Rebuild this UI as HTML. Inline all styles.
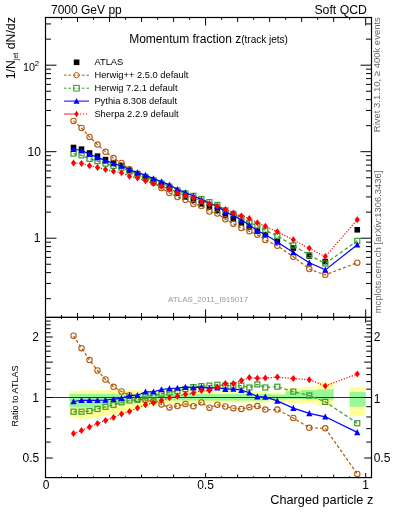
<!DOCTYPE html><html><head><meta charset="utf-8"><style>html,body{margin:0;padding:0;background:#fff;width:393px;height:512px;overflow:hidden;}svg{display:block;will-change:transform;}text{font-family:"Liberation Sans",sans-serif;}</style></head><body>
<svg width="393" height="512" viewBox="0 0 393 512">
<path d="M69.52,391.10 L77.52,391.10 L77.52,390.60 L85.53,390.60 L85.53,390.30 L93.53,390.30 L93.53,390.30 L101.53,390.30 L101.53,390.30 L109.54,390.30 L109.54,390.30 L117.55,390.30 L117.55,390.30 L125.55,390.30 L125.55,390.30 L133.56,390.30 L133.56,390.30 L141.56,390.30 L141.56,391.00 L149.56,391.00 L149.56,391.00 L157.57,391.00 L157.57,391.00 L165.57,391.00 L165.58,391.00 L173.58,391.00 L173.58,391.00 L181.59,391.00 L181.59,391.00 L189.59,391.00 L189.59,391.00 L197.59,391.00 L197.59,391.00 L205.60,391.00 L205.60,391.00 L213.60,391.00 L213.60,391.00 L221.61,391.00 L221.61,391.00 L229.62,391.00 L229.61,391.00 L237.62,391.00 L237.62,391.00 L245.62,391.00 L245.62,391.00 L253.63,391.00 L253.63,391.00 L261.63,391.00 L261.63,391.00 L269.64,391.00 L269.64,392.40 L285.65,392.40 L285.65,388.40 L301.66,388.40 L301.66,386.80 L317.67,386.80 L317.67,382.60 L333.68,382.60 L333.68,405.50 L317.67,405.50 L317.67,403.60 L301.66,403.60 L301.66,402.70 L285.65,402.70 L285.65,402.00 L269.64,402.00 L269.64,402.50 L261.63,402.50 L261.63,402.50 L253.63,402.50 L253.63,402.50 L245.62,402.50 L245.62,402.50 L237.62,402.50 L237.62,402.50 L229.61,402.50 L229.62,402.60 L221.61,402.60 L221.61,402.70 L213.60,402.70 L213.60,402.80 L205.60,402.80 L205.60,403.00 L197.59,403.00 L197.59,403.20 L189.59,403.20 L189.59,403.40 L181.59,403.40 L181.59,403.60 L173.58,403.60 L173.58,403.80 L165.58,403.80 L165.57,404.00 L157.57,404.00 L157.57,405.50 L149.56,405.50 L149.56,407.00 L141.56,407.00 L141.56,409.00 L133.56,409.00 L133.56,410.50 L125.55,410.50 L125.55,413.60 L117.55,413.60 L117.55,414.50 L109.54,414.50 L109.54,416.00 L101.53,416.00 L101.53,417.50 L93.53,417.50 L93.53,418.50 L85.53,418.50 L85.53,418.70 L77.52,418.70 L77.52,417.00 L69.52,417.00 Z M349.69,387.20 L365.70,387.20 L365.70,415.80 L349.69,415.80 Z " fill="#ffff99"/>
<path d="M69.52,394.00 L77.52,394.00 L77.52,394.00 L85.53,394.00 L85.53,394.00 L93.53,394.00 L93.53,394.00 L101.53,394.00 L101.53,394.00 L109.54,394.00 L109.54,394.00 L117.55,394.00 L117.55,394.00 L125.55,394.00 L125.55,394.00 L133.56,394.00 L133.56,394.00 L141.56,394.00 L141.56,394.00 L149.56,394.00 L149.56,394.00 L157.57,394.00 L157.57,394.00 L165.57,394.00 L165.58,394.00 L173.58,394.00 L173.58,394.00 L181.59,394.00 L181.59,394.00 L189.59,394.00 L189.59,394.00 L197.59,394.00 L197.59,394.00 L205.60,394.00 L205.60,394.00 L213.60,394.00 L213.60,394.00 L221.61,394.00 L221.61,394.00 L229.62,394.00 L229.61,394.00 L237.62,394.00 L237.62,394.00 L245.62,394.00 L245.62,394.00 L253.63,394.00 L253.63,394.00 L261.63,394.00 L261.63,394.00 L269.64,394.00 L269.64,394.50 L285.65,394.50 L285.65,391.20 L301.66,391.20 L301.66,389.90 L317.67,389.90 L317.67,389.30 L333.68,389.30 L333.68,399.80 L317.67,399.80 L317.67,399.40 L301.66,399.40 L301.66,398.90 L285.65,398.90 L285.65,399.50 L269.64,399.50 L269.64,400.50 L261.63,400.50 L261.63,400.50 L253.63,400.50 L253.63,400.50 L245.62,400.50 L245.62,400.50 L237.62,400.50 L237.62,400.50 L229.61,400.50 L229.62,400.50 L221.61,400.50 L221.61,400.50 L213.60,400.50 L213.60,400.50 L205.60,400.50 L205.60,400.50 L197.59,400.50 L197.59,400.50 L189.59,400.50 L189.59,400.50 L181.59,400.50 L181.59,400.50 L173.58,400.50 L173.58,400.50 L165.58,400.50 L165.57,400.50 L157.57,400.50 L157.57,402.00 L149.56,402.00 L149.56,402.00 L141.56,402.00 L141.56,402.00 L133.56,402.00 L133.56,402.00 L125.55,402.00 L125.55,404.40 L117.55,404.40 L117.55,404.40 L109.54,404.40 L109.54,404.40 L101.53,404.40 L101.53,407.50 L93.53,407.50 L93.53,407.50 L85.53,407.50 L85.53,407.50 L77.52,407.50 L77.52,407.50 L69.52,407.50 Z M349.69,392.10 L365.70,392.10 L365.70,406.70 L349.69,406.70 Z " fill="#99f799"/>
<line x1="45.5" y1="397.5" x2="371.5" y2="397.5" stroke="#333" stroke-width="1.2"/>
<defs><clipPath id="cm"><rect x="45.5" y="17.5" width="326.0" height="299.9"/></clipPath><clipPath id="cr"><rect x="45.5" y="317.4" width="326.0" height="160.20000000000005"/></clipPath></defs>
<g clip-path="url(#cm)">
<rect x="70.72" y="144.70" width="5.6" height="5.6" fill="#000"/>
<rect x="78.72" y="146.40" width="5.6" height="5.6" fill="#000"/>
<rect x="86.71" y="150.20" width="5.6" height="5.6" fill="#000"/>
<rect x="94.70" y="153.40" width="5.6" height="5.6" fill="#000"/>
<rect x="102.69" y="156.80" width="5.6" height="5.6" fill="#000"/>
<rect x="110.69" y="159.90" width="5.6" height="5.6" fill="#000"/>
<rect x="118.68" y="162.80" width="5.6" height="5.6" fill="#000"/>
<rect x="126.67" y="167.50" width="5.6" height="5.6" fill="#000"/>
<rect x="134.66" y="170.80" width="5.6" height="5.6" fill="#000"/>
<rect x="142.66" y="174.80" width="5.6" height="5.6" fill="#000"/>
<rect x="150.65" y="178.30" width="5.6" height="5.6" fill="#000"/>
<rect x="158.64" y="182.30" width="5.6" height="5.6" fill="#000"/>
<rect x="166.63" y="185.90" width="5.6" height="5.6" fill="#000"/>
<rect x="174.63" y="190.50" width="5.6" height="5.6" fill="#000"/>
<rect x="182.62" y="194.20" width="5.6" height="5.6" fill="#000"/>
<rect x="190.61" y="197.50" width="5.6" height="5.6" fill="#000"/>
<rect x="198.60" y="201.10" width="5.6" height="5.6" fill="#000"/>
<rect x="206.60" y="204.40" width="5.6" height="5.6" fill="#000"/>
<rect x="214.59" y="207.60" width="5.6" height="5.6" fill="#000"/>
<rect x="222.58" y="212.70" width="5.6" height="5.6" fill="#000"/>
<rect x="230.57" y="216.30" width="5.6" height="5.6" fill="#000"/>
<rect x="238.57" y="220.40" width="5.6" height="5.6" fill="#000"/>
<rect x="246.56" y="224.30" width="5.6" height="5.6" fill="#000"/>
<rect x="254.55" y="228.30" width="5.6" height="5.6" fill="#000"/>
<rect x="262.54" y="231.90" width="5.6" height="5.6" fill="#000"/>
<rect x="274.53" y="237.80" width="5.6" height="5.6" fill="#000"/>
<rect x="290.52" y="245.20" width="5.6" height="5.6" fill="#000"/>
<rect x="306.50" y="253.20" width="5.6" height="5.6" fill="#000"/>
<rect x="322.49" y="258.80" width="5.6" height="5.6" fill="#000"/>
<rect x="354.46" y="227.00" width="5.6" height="5.6" fill="#000"/>
<polyline points="73.52,120.90 81.52,127.98 89.51,136.90 97.50,144.58 105.49,151.85 113.49,158.10 121.48,163.02 129.47,169.31 137.46,174.25 145.46,178.68 153.45,182.74 161.44,188.07 169.43,192.96 177.43,197.00 185.42,199.75 193.41,204.04 201.40,206.01 209.40,211.59 217.39,213.50 225.38,219.37 233.37,223.70 241.37,228.11 249.36,231.32 257.35,234.80 265.34,239.91 277.33,245.81 293.32,256.82 309.30,269.04 325.29,274.85 357.26,262.68" fill="none" stroke="#b35a0c" stroke-width="1.2" stroke-dasharray="3,2.2"/>
<circle cx="73.52" cy="120.90" r="2.7" fill="none" stroke="#b35a0c" stroke-width="1.1"/>
<circle cx="81.52" cy="127.98" r="2.7" fill="none" stroke="#b35a0c" stroke-width="1.1"/>
<circle cx="89.51" cy="136.90" r="2.7" fill="none" stroke="#b35a0c" stroke-width="1.1"/>
<circle cx="97.50" cy="144.58" r="2.7" fill="none" stroke="#b35a0c" stroke-width="1.1"/>
<circle cx="105.49" cy="151.85" r="2.7" fill="none" stroke="#b35a0c" stroke-width="1.1"/>
<circle cx="113.49" cy="158.10" r="2.7" fill="none" stroke="#b35a0c" stroke-width="1.1"/>
<circle cx="121.48" cy="163.02" r="2.7" fill="none" stroke="#b35a0c" stroke-width="1.1"/>
<circle cx="129.47" cy="169.31" r="2.7" fill="none" stroke="#b35a0c" stroke-width="1.1"/>
<circle cx="137.46" cy="174.25" r="2.7" fill="none" stroke="#b35a0c" stroke-width="1.1"/>
<circle cx="145.46" cy="178.68" r="2.7" fill="none" stroke="#b35a0c" stroke-width="1.1"/>
<circle cx="153.45" cy="182.74" r="2.7" fill="none" stroke="#b35a0c" stroke-width="1.1"/>
<circle cx="161.44" cy="188.07" r="2.7" fill="none" stroke="#b35a0c" stroke-width="1.1"/>
<circle cx="169.43" cy="192.96" r="2.7" fill="none" stroke="#b35a0c" stroke-width="1.1"/>
<circle cx="177.43" cy="197.00" r="2.7" fill="none" stroke="#b35a0c" stroke-width="1.1"/>
<circle cx="185.42" cy="199.75" r="2.7" fill="none" stroke="#b35a0c" stroke-width="1.1"/>
<circle cx="193.41" cy="204.04" r="2.7" fill="none" stroke="#b35a0c" stroke-width="1.1"/>
<circle cx="201.40" cy="206.01" r="2.7" fill="none" stroke="#b35a0c" stroke-width="1.1"/>
<circle cx="209.40" cy="211.59" r="2.7" fill="none" stroke="#b35a0c" stroke-width="1.1"/>
<circle cx="217.39" cy="213.50" r="2.7" fill="none" stroke="#b35a0c" stroke-width="1.1"/>
<circle cx="225.38" cy="219.37" r="2.7" fill="none" stroke="#b35a0c" stroke-width="1.1"/>
<circle cx="233.37" cy="223.70" r="2.7" fill="none" stroke="#b35a0c" stroke-width="1.1"/>
<circle cx="241.37" cy="228.11" r="2.7" fill="none" stroke="#b35a0c" stroke-width="1.1"/>
<circle cx="249.36" cy="231.32" r="2.7" fill="none" stroke="#b35a0c" stroke-width="1.1"/>
<circle cx="257.35" cy="234.80" r="2.7" fill="none" stroke="#b35a0c" stroke-width="1.1"/>
<circle cx="265.34" cy="239.91" r="2.7" fill="none" stroke="#b35a0c" stroke-width="1.1"/>
<circle cx="277.33" cy="245.81" r="2.7" fill="none" stroke="#b35a0c" stroke-width="1.1"/>
<circle cx="293.32" cy="256.82" r="2.7" fill="none" stroke="#b35a0c" stroke-width="1.1"/>
<circle cx="309.30" cy="269.04" r="2.7" fill="none" stroke="#b35a0c" stroke-width="1.1"/>
<circle cx="325.29" cy="274.85" r="2.7" fill="none" stroke="#b35a0c" stroke-width="1.1"/>
<circle cx="357.26" cy="262.68" r="2.7" fill="none" stroke="#b35a0c" stroke-width="1.1"/>
<polyline points="73.52,153.61 81.52,155.31 89.51,158.81 97.50,161.15 105.49,163.60 113.49,165.84 121.48,167.67 129.47,171.59 137.46,174.59 145.46,176.95 153.45,180.28 161.44,183.46 169.43,186.59 177.43,190.50 185.42,193.39 193.41,195.82 201.40,198.99 209.40,202.08 217.39,204.93 225.38,210.38 233.37,213.98 241.37,218.08 249.36,222.80 257.35,225.46 265.34,230.40 277.33,235.95 293.32,245.46 309.30,255.14 325.29,263.49 357.26,240.86" fill="none" stroke="#3c9c2c" stroke-width="1.2" stroke-dasharray="3.5,2.5"/>
<rect x="71.02" y="151.11" width="5.0" height="5.0" fill="none" stroke="#3c9c2c" stroke-width="1.2"/>
<rect x="79.02" y="152.81" width="5.0" height="5.0" fill="none" stroke="#3c9c2c" stroke-width="1.2"/>
<rect x="87.01" y="156.31" width="5.0" height="5.0" fill="none" stroke="#3c9c2c" stroke-width="1.2"/>
<rect x="95.00" y="158.65" width="5.0" height="5.0" fill="none" stroke="#3c9c2c" stroke-width="1.2"/>
<rect x="102.99" y="161.10" width="5.0" height="5.0" fill="none" stroke="#3c9c2c" stroke-width="1.2"/>
<rect x="110.99" y="163.34" width="5.0" height="5.0" fill="none" stroke="#3c9c2c" stroke-width="1.2"/>
<rect x="118.98" y="165.17" width="5.0" height="5.0" fill="none" stroke="#3c9c2c" stroke-width="1.2"/>
<rect x="126.97" y="169.09" width="5.0" height="5.0" fill="none" stroke="#3c9c2c" stroke-width="1.2"/>
<rect x="134.96" y="172.09" width="5.0" height="5.0" fill="none" stroke="#3c9c2c" stroke-width="1.2"/>
<rect x="142.96" y="174.45" width="5.0" height="5.0" fill="none" stroke="#3c9c2c" stroke-width="1.2"/>
<rect x="150.95" y="177.78" width="5.0" height="5.0" fill="none" stroke="#3c9c2c" stroke-width="1.2"/>
<rect x="158.94" y="180.96" width="5.0" height="5.0" fill="none" stroke="#3c9c2c" stroke-width="1.2"/>
<rect x="166.93" y="184.09" width="5.0" height="5.0" fill="none" stroke="#3c9c2c" stroke-width="1.2"/>
<rect x="174.93" y="188.00" width="5.0" height="5.0" fill="none" stroke="#3c9c2c" stroke-width="1.2"/>
<rect x="182.92" y="190.89" width="5.0" height="5.0" fill="none" stroke="#3c9c2c" stroke-width="1.2"/>
<rect x="190.91" y="193.32" width="5.0" height="5.0" fill="none" stroke="#3c9c2c" stroke-width="1.2"/>
<rect x="198.90" y="196.49" width="5.0" height="5.0" fill="none" stroke="#3c9c2c" stroke-width="1.2"/>
<rect x="206.90" y="199.58" width="5.0" height="5.0" fill="none" stroke="#3c9c2c" stroke-width="1.2"/>
<rect x="214.89" y="202.43" width="5.0" height="5.0" fill="none" stroke="#3c9c2c" stroke-width="1.2"/>
<rect x="222.88" y="207.88" width="5.0" height="5.0" fill="none" stroke="#3c9c2c" stroke-width="1.2"/>
<rect x="230.87" y="211.48" width="5.0" height="5.0" fill="none" stroke="#3c9c2c" stroke-width="1.2"/>
<rect x="238.87" y="215.58" width="5.0" height="5.0" fill="none" stroke="#3c9c2c" stroke-width="1.2"/>
<rect x="246.86" y="220.30" width="5.0" height="5.0" fill="none" stroke="#3c9c2c" stroke-width="1.2"/>
<rect x="254.85" y="222.96" width="5.0" height="5.0" fill="none" stroke="#3c9c2c" stroke-width="1.2"/>
<rect x="262.84" y="227.90" width="5.0" height="5.0" fill="none" stroke="#3c9c2c" stroke-width="1.2"/>
<rect x="274.83" y="233.45" width="5.0" height="5.0" fill="none" stroke="#3c9c2c" stroke-width="1.2"/>
<rect x="290.82" y="242.96" width="5.0" height="5.0" fill="none" stroke="#3c9c2c" stroke-width="1.2"/>
<rect x="306.80" y="252.64" width="5.0" height="5.0" fill="none" stroke="#3c9c2c" stroke-width="1.2"/>
<rect x="322.79" y="260.99" width="5.0" height="5.0" fill="none" stroke="#3c9c2c" stroke-width="1.2"/>
<rect x="354.76" y="238.36" width="5.0" height="5.0" fill="none" stroke="#3c9c2c" stroke-width="1.2"/>
<polyline points="73.52,149.22 81.52,150.40 89.51,154.20 97.50,157.40 105.49,160.68 113.49,163.43 121.48,165.94 129.47,169.48 137.46,172.61 145.46,175.15 153.45,178.65 161.44,181.66 169.43,184.87 177.43,189.21 185.42,192.52 193.41,196.04 201.40,199.42 209.40,203.20 217.39,206.14 225.38,211.89 233.37,215.44 241.37,220.06 249.36,225.08 257.35,230.71 265.34,234.44 277.33,242.06 293.32,252.56 309.30,262.84 325.29,269.91 357.26,244.82" fill="none" stroke="#0000ff" stroke-width="1.2"/>
<path d="M73.52,145.93 L76.62,152.01 L70.42,152.01 Z" fill="#0000ff"/>
<path d="M81.52,147.11 L84.62,153.19 L78.42,153.19 Z" fill="#0000ff"/>
<path d="M89.51,150.91 L92.61,156.99 L86.41,156.99 Z" fill="#0000ff"/>
<path d="M97.50,154.11 L100.60,160.19 L94.40,160.19 Z" fill="#0000ff"/>
<path d="M105.49,157.39 L108.59,163.47 L102.39,163.47 Z" fill="#0000ff"/>
<path d="M113.49,160.14 L116.59,166.22 L110.39,166.22 Z" fill="#0000ff"/>
<path d="M121.48,162.65 L124.58,168.73 L118.38,168.73 Z" fill="#0000ff"/>
<path d="M129.47,166.19 L132.57,172.27 L126.37,172.27 Z" fill="#0000ff"/>
<path d="M137.46,169.32 L140.56,175.40 L134.36,175.40 Z" fill="#0000ff"/>
<path d="M145.46,171.86 L148.56,177.94 L142.36,177.94 Z" fill="#0000ff"/>
<path d="M153.45,175.36 L156.55,181.44 L150.35,181.44 Z" fill="#0000ff"/>
<path d="M161.44,178.37 L164.54,184.45 L158.34,184.45 Z" fill="#0000ff"/>
<path d="M169.43,181.58 L172.53,187.66 L166.33,187.66 Z" fill="#0000ff"/>
<path d="M177.43,185.92 L180.53,192.00 L174.33,192.00 Z" fill="#0000ff"/>
<path d="M185.42,189.23 L188.52,195.31 L182.32,195.31 Z" fill="#0000ff"/>
<path d="M193.41,192.75 L196.51,198.83 L190.31,198.83 Z" fill="#0000ff"/>
<path d="M201.40,196.13 L204.50,202.21 L198.30,202.21 Z" fill="#0000ff"/>
<path d="M209.40,199.91 L212.50,205.99 L206.30,205.99 Z" fill="#0000ff"/>
<path d="M217.39,202.85 L220.49,208.93 L214.29,208.93 Z" fill="#0000ff"/>
<path d="M225.38,208.60 L228.48,214.68 L222.28,214.68 Z" fill="#0000ff"/>
<path d="M233.37,212.15 L236.47,218.23 L230.27,218.23 Z" fill="#0000ff"/>
<path d="M241.37,216.77 L244.47,222.85 L238.27,222.85 Z" fill="#0000ff"/>
<path d="M249.36,221.79 L252.46,227.87 L246.26,227.87 Z" fill="#0000ff"/>
<path d="M257.35,227.42 L260.45,233.50 L254.25,233.50 Z" fill="#0000ff"/>
<path d="M265.34,231.15 L268.44,237.23 L262.24,237.23 Z" fill="#0000ff"/>
<path d="M277.33,238.77 L280.43,244.85 L274.23,244.85 Z" fill="#0000ff"/>
<path d="M293.32,249.27 L296.42,255.35 L290.22,255.35 Z" fill="#0000ff"/>
<path d="M309.30,259.55 L312.40,265.63 L306.20,265.63 Z" fill="#0000ff"/>
<path d="M325.29,266.62 L328.39,272.70 L322.19,272.70 Z" fill="#0000ff"/>
<path d="M357.26,241.53 L360.36,247.61 L354.16,247.61 Z" fill="#0000ff"/>
<polyline points="73.52,162.99 81.52,163.40 89.51,165.70 97.50,167.39 105.49,169.45 113.49,171.31 121.48,172.70 129.47,176.32 137.46,178.08 145.46,180.74 153.45,183.38 161.44,186.39 169.43,188.83 177.43,192.78 185.42,195.62 193.41,198.32 201.40,200.93 209.40,204.23 217.39,205.92 225.38,209.52 233.37,213.08 241.37,215.93 249.36,218.54 257.35,222.84 265.34,226.31 277.33,231.82 293.32,239.87 309.30,248.34 325.29,256.61 357.26,219.69" fill="none" stroke="#ff0000" stroke-width="1.2" stroke-dasharray="1.2,1.6"/>
<path d="M73.52,159.49 L76.12,162.99 L73.52,166.49 L70.92,162.99 Z" fill="#ff0000"/>
<path d="M81.52,159.90 L84.12,163.40 L81.52,166.90 L78.92,163.40 Z" fill="#ff0000"/>
<path d="M89.51,162.20 L92.11,165.70 L89.51,169.20 L86.91,165.70 Z" fill="#ff0000"/>
<path d="M97.50,163.89 L100.10,167.39 L97.50,170.89 L94.90,167.39 Z" fill="#ff0000"/>
<path d="M105.49,165.95 L108.09,169.45 L105.49,172.95 L102.89,169.45 Z" fill="#ff0000"/>
<path d="M113.49,167.81 L116.09,171.31 L113.49,174.81 L110.89,171.31 Z" fill="#ff0000"/>
<path d="M121.48,169.20 L124.08,172.70 L121.48,176.20 L118.88,172.70 Z" fill="#ff0000"/>
<path d="M129.47,172.82 L132.07,176.32 L129.47,179.82 L126.87,176.32 Z" fill="#ff0000"/>
<path d="M137.46,174.58 L140.06,178.08 L137.46,181.58 L134.86,178.08 Z" fill="#ff0000"/>
<path d="M145.46,177.24 L148.06,180.74 L145.46,184.24 L142.86,180.74 Z" fill="#ff0000"/>
<path d="M153.45,179.88 L156.05,183.38 L153.45,186.88 L150.85,183.38 Z" fill="#ff0000"/>
<path d="M161.44,182.89 L164.04,186.39 L161.44,189.89 L158.84,186.39 Z" fill="#ff0000"/>
<path d="M169.43,185.33 L172.03,188.83 L169.43,192.33 L166.83,188.83 Z" fill="#ff0000"/>
<path d="M177.43,189.28 L180.03,192.78 L177.43,196.28 L174.83,192.78 Z" fill="#ff0000"/>
<path d="M185.42,192.12 L188.02,195.62 L185.42,199.12 L182.82,195.62 Z" fill="#ff0000"/>
<path d="M193.41,194.82 L196.01,198.32 L193.41,201.82 L190.81,198.32 Z" fill="#ff0000"/>
<path d="M201.40,197.43 L204.00,200.93 L201.40,204.43 L198.80,200.93 Z" fill="#ff0000"/>
<path d="M209.40,200.73 L212.00,204.23 L209.40,207.73 L206.80,204.23 Z" fill="#ff0000"/>
<path d="M217.39,202.42 L219.99,205.92 L217.39,209.42 L214.79,205.92 Z" fill="#ff0000"/>
<path d="M225.38,206.02 L227.98,209.52 L225.38,213.02 L222.78,209.52 Z" fill="#ff0000"/>
<path d="M233.37,209.58 L235.97,213.08 L233.37,216.58 L230.77,213.08 Z" fill="#ff0000"/>
<path d="M241.37,212.43 L243.97,215.93 L241.37,219.43 L238.77,215.93 Z" fill="#ff0000"/>
<path d="M249.36,215.04 L251.96,218.54 L249.36,222.04 L246.76,218.54 Z" fill="#ff0000"/>
<path d="M257.35,219.34 L259.95,222.84 L257.35,226.34 L254.75,222.84 Z" fill="#ff0000"/>
<path d="M265.34,222.81 L267.94,226.31 L265.34,229.81 L262.74,226.31 Z" fill="#ff0000"/>
<path d="M277.33,228.32 L279.93,231.82 L277.33,235.32 L274.73,231.82 Z" fill="#ff0000"/>
<path d="M293.32,236.37 L295.92,239.87 L293.32,243.37 L290.72,239.87 Z" fill="#ff0000"/>
<path d="M309.30,244.84 L311.90,248.34 L309.30,251.84 L306.70,248.34 Z" fill="#ff0000"/>
<path d="M325.29,253.11 L327.89,256.61 L325.29,260.11 L322.69,256.61 Z" fill="#ff0000"/>
<path d="M357.26,216.19 L359.86,219.69 L357.26,223.19 L354.66,219.69 Z" fill="#ff0000"/>
</g>
<g clip-path="url(#cr)">
<polyline points="73.52,335.70 81.52,348.20 89.51,360.10 97.50,370.50 105.49,379.50 113.49,386.80 121.48,391.50 129.47,395.20 137.46,399.00 145.46,400.00 153.45,401.30 161.44,404.40 169.43,407.40 177.43,406.10 185.42,403.90 193.41,406.20 201.40,402.40 209.40,407.70 217.39,404.70 225.38,406.50 233.37,408.20 241.37,408.90 249.36,407.30 257.35,406.10 265.34,409.60 277.33,409.60 293.32,418.00 309.30,427.80 325.29,428.30 357.26,473.90" fill="none" stroke="#b35a0c" stroke-width="1.2" stroke-dasharray="3,2.2"/>
<circle cx="73.52" cy="335.70" r="2.7" fill="none" stroke="#b35a0c" stroke-width="1.1"/>
<circle cx="81.52" cy="348.20" r="2.7" fill="none" stroke="#b35a0c" stroke-width="1.1"/>
<circle cx="89.51" cy="360.10" r="2.7" fill="none" stroke="#b35a0c" stroke-width="1.1"/>
<circle cx="97.50" cy="370.50" r="2.7" fill="none" stroke="#b35a0c" stroke-width="1.1"/>
<circle cx="105.49" cy="379.50" r="2.7" fill="none" stroke="#b35a0c" stroke-width="1.1"/>
<circle cx="113.49" cy="386.80" r="2.7" fill="none" stroke="#b35a0c" stroke-width="1.1"/>
<circle cx="121.48" cy="391.50" r="2.7" fill="none" stroke="#b35a0c" stroke-width="1.1"/>
<circle cx="129.47" cy="395.20" r="2.7" fill="none" stroke="#b35a0c" stroke-width="1.1"/>
<circle cx="137.46" cy="399.00" r="2.7" fill="none" stroke="#b35a0c" stroke-width="1.1"/>
<circle cx="145.46" cy="400.00" r="2.7" fill="none" stroke="#b35a0c" stroke-width="1.1"/>
<circle cx="153.45" cy="401.30" r="2.7" fill="none" stroke="#b35a0c" stroke-width="1.1"/>
<circle cx="161.44" cy="404.40" r="2.7" fill="none" stroke="#b35a0c" stroke-width="1.1"/>
<circle cx="169.43" cy="407.40" r="2.7" fill="none" stroke="#b35a0c" stroke-width="1.1"/>
<circle cx="177.43" cy="406.10" r="2.7" fill="none" stroke="#b35a0c" stroke-width="1.1"/>
<circle cx="185.42" cy="403.90" r="2.7" fill="none" stroke="#b35a0c" stroke-width="1.1"/>
<circle cx="193.41" cy="406.20" r="2.7" fill="none" stroke="#b35a0c" stroke-width="1.1"/>
<circle cx="201.40" cy="402.40" r="2.7" fill="none" stroke="#b35a0c" stroke-width="1.1"/>
<circle cx="209.40" cy="407.70" r="2.7" fill="none" stroke="#b35a0c" stroke-width="1.1"/>
<circle cx="217.39" cy="404.70" r="2.7" fill="none" stroke="#b35a0c" stroke-width="1.1"/>
<circle cx="225.38" cy="406.50" r="2.7" fill="none" stroke="#b35a0c" stroke-width="1.1"/>
<circle cx="233.37" cy="408.20" r="2.7" fill="none" stroke="#b35a0c" stroke-width="1.1"/>
<circle cx="241.37" cy="408.90" r="2.7" fill="none" stroke="#b35a0c" stroke-width="1.1"/>
<circle cx="249.36" cy="407.30" r="2.7" fill="none" stroke="#b35a0c" stroke-width="1.1"/>
<circle cx="257.35" cy="406.10" r="2.7" fill="none" stroke="#b35a0c" stroke-width="1.1"/>
<circle cx="265.34" cy="409.60" r="2.7" fill="none" stroke="#b35a0c" stroke-width="1.1"/>
<circle cx="277.33" cy="409.60" r="2.7" fill="none" stroke="#b35a0c" stroke-width="1.1"/>
<circle cx="293.32" cy="418.00" r="2.7" fill="none" stroke="#b35a0c" stroke-width="1.1"/>
<circle cx="309.30" cy="427.80" r="2.7" fill="none" stroke="#b35a0c" stroke-width="1.1"/>
<circle cx="325.29" cy="428.30" r="2.7" fill="none" stroke="#b35a0c" stroke-width="1.1"/>
<circle cx="357.26" cy="473.90" r="2.7" fill="none" stroke="#b35a0c" stroke-width="1.1"/>
<polyline points="73.52,411.70 81.52,411.70 89.51,411.00 97.50,409.00 105.49,406.80 113.49,404.80 121.48,402.30 129.47,400.50 137.46,399.80 145.46,396.00 153.45,395.60 161.44,393.70 169.43,392.60 177.43,391.00 185.42,389.10 193.41,387.10 201.40,386.10 209.40,385.60 217.39,384.80 225.38,385.60 233.37,385.60 241.37,385.60 249.36,387.50 257.35,384.40 265.34,387.50 277.33,386.70 293.32,391.60 309.30,395.50 325.29,401.90 357.26,423.20" fill="none" stroke="#3c9c2c" stroke-width="1.2" stroke-dasharray="3.5,2.5"/>
<rect x="71.02" y="409.20" width="5.0" height="5.0" fill="none" stroke="#3c9c2c" stroke-width="1.2"/>
<rect x="79.02" y="409.20" width="5.0" height="5.0" fill="none" stroke="#3c9c2c" stroke-width="1.2"/>
<rect x="87.01" y="408.50" width="5.0" height="5.0" fill="none" stroke="#3c9c2c" stroke-width="1.2"/>
<rect x="95.00" y="406.50" width="5.0" height="5.0" fill="none" stroke="#3c9c2c" stroke-width="1.2"/>
<rect x="102.99" y="404.30" width="5.0" height="5.0" fill="none" stroke="#3c9c2c" stroke-width="1.2"/>
<rect x="110.99" y="402.30" width="5.0" height="5.0" fill="none" stroke="#3c9c2c" stroke-width="1.2"/>
<rect x="118.98" y="399.80" width="5.0" height="5.0" fill="none" stroke="#3c9c2c" stroke-width="1.2"/>
<rect x="126.97" y="398.00" width="5.0" height="5.0" fill="none" stroke="#3c9c2c" stroke-width="1.2"/>
<rect x="134.96" y="397.30" width="5.0" height="5.0" fill="none" stroke="#3c9c2c" stroke-width="1.2"/>
<rect x="142.96" y="393.50" width="5.0" height="5.0" fill="none" stroke="#3c9c2c" stroke-width="1.2"/>
<rect x="150.95" y="393.10" width="5.0" height="5.0" fill="none" stroke="#3c9c2c" stroke-width="1.2"/>
<rect x="158.94" y="391.20" width="5.0" height="5.0" fill="none" stroke="#3c9c2c" stroke-width="1.2"/>
<rect x="166.93" y="390.10" width="5.0" height="5.0" fill="none" stroke="#3c9c2c" stroke-width="1.2"/>
<rect x="174.93" y="388.50" width="5.0" height="5.0" fill="none" stroke="#3c9c2c" stroke-width="1.2"/>
<rect x="182.92" y="386.60" width="5.0" height="5.0" fill="none" stroke="#3c9c2c" stroke-width="1.2"/>
<rect x="190.91" y="384.60" width="5.0" height="5.0" fill="none" stroke="#3c9c2c" stroke-width="1.2"/>
<rect x="198.90" y="383.60" width="5.0" height="5.0" fill="none" stroke="#3c9c2c" stroke-width="1.2"/>
<rect x="206.90" y="383.10" width="5.0" height="5.0" fill="none" stroke="#3c9c2c" stroke-width="1.2"/>
<rect x="214.89" y="382.30" width="5.0" height="5.0" fill="none" stroke="#3c9c2c" stroke-width="1.2"/>
<rect x="222.88" y="383.10" width="5.0" height="5.0" fill="none" stroke="#3c9c2c" stroke-width="1.2"/>
<rect x="230.87" y="383.10" width="5.0" height="5.0" fill="none" stroke="#3c9c2c" stroke-width="1.2"/>
<rect x="238.87" y="383.10" width="5.0" height="5.0" fill="none" stroke="#3c9c2c" stroke-width="1.2"/>
<rect x="246.86" y="385.00" width="5.0" height="5.0" fill="none" stroke="#3c9c2c" stroke-width="1.2"/>
<rect x="254.85" y="381.90" width="5.0" height="5.0" fill="none" stroke="#3c9c2c" stroke-width="1.2"/>
<rect x="262.84" y="385.00" width="5.0" height="5.0" fill="none" stroke="#3c9c2c" stroke-width="1.2"/>
<rect x="274.83" y="384.20" width="5.0" height="5.0" fill="none" stroke="#3c9c2c" stroke-width="1.2"/>
<rect x="290.82" y="389.10" width="5.0" height="5.0" fill="none" stroke="#3c9c2c" stroke-width="1.2"/>
<rect x="306.80" y="393.00" width="5.0" height="5.0" fill="none" stroke="#3c9c2c" stroke-width="1.2"/>
<rect x="322.79" y="399.40" width="5.0" height="5.0" fill="none" stroke="#3c9c2c" stroke-width="1.2"/>
<rect x="354.76" y="420.70" width="5.0" height="5.0" fill="none" stroke="#3c9c2c" stroke-width="1.2"/>
<polyline points="73.52,401.50 81.52,400.30 89.51,400.30 97.50,400.30 105.49,400.00 113.49,399.20 121.48,398.30 129.47,395.60 137.46,395.20 145.46,391.80 153.45,391.80 161.44,389.50 169.43,388.60 177.43,388.00 185.42,387.10 193.41,387.60 201.40,387.10 209.40,388.20 217.39,387.60 225.38,389.10 233.37,389.00 241.37,390.20 249.36,392.80 257.35,396.60 265.34,396.90 277.33,400.90 293.32,408.10 309.30,413.40 325.29,416.80 357.26,432.40" fill="none" stroke="#0000ff" stroke-width="1.2"/>
<path d="M73.52,398.21 L76.62,404.29 L70.42,404.29 Z" fill="#0000ff"/>
<path d="M81.52,397.01 L84.62,403.09 L78.42,403.09 Z" fill="#0000ff"/>
<path d="M89.51,397.01 L92.61,403.09 L86.41,403.09 Z" fill="#0000ff"/>
<path d="M97.50,397.01 L100.60,403.09 L94.40,403.09 Z" fill="#0000ff"/>
<path d="M105.49,396.71 L108.59,402.79 L102.39,402.79 Z" fill="#0000ff"/>
<path d="M113.49,395.91 L116.59,401.99 L110.39,401.99 Z" fill="#0000ff"/>
<path d="M121.48,395.01 L124.58,401.09 L118.38,401.09 Z" fill="#0000ff"/>
<path d="M129.47,392.31 L132.57,398.39 L126.37,398.39 Z" fill="#0000ff"/>
<path d="M137.46,391.91 L140.56,397.99 L134.36,397.99 Z" fill="#0000ff"/>
<path d="M145.46,388.51 L148.56,394.59 L142.36,394.59 Z" fill="#0000ff"/>
<path d="M153.45,388.51 L156.55,394.59 L150.35,394.59 Z" fill="#0000ff"/>
<path d="M161.44,386.21 L164.54,392.29 L158.34,392.29 Z" fill="#0000ff"/>
<path d="M169.43,385.31 L172.53,391.39 L166.33,391.39 Z" fill="#0000ff"/>
<path d="M177.43,384.71 L180.53,390.79 L174.33,390.79 Z" fill="#0000ff"/>
<path d="M185.42,383.81 L188.52,389.89 L182.32,389.89 Z" fill="#0000ff"/>
<path d="M193.41,384.31 L196.51,390.39 L190.31,390.39 Z" fill="#0000ff"/>
<path d="M201.40,383.81 L204.50,389.89 L198.30,389.89 Z" fill="#0000ff"/>
<path d="M209.40,384.91 L212.50,390.99 L206.30,390.99 Z" fill="#0000ff"/>
<path d="M217.39,384.31 L220.49,390.39 L214.29,390.39 Z" fill="#0000ff"/>
<path d="M225.38,385.81 L228.48,391.89 L222.28,391.89 Z" fill="#0000ff"/>
<path d="M233.37,385.71 L236.47,391.79 L230.27,391.79 Z" fill="#0000ff"/>
<path d="M241.37,386.91 L244.47,392.99 L238.27,392.99 Z" fill="#0000ff"/>
<path d="M249.36,389.51 L252.46,395.59 L246.26,395.59 Z" fill="#0000ff"/>
<path d="M257.35,393.31 L260.45,399.39 L254.25,399.39 Z" fill="#0000ff"/>
<path d="M265.34,393.61 L268.44,399.69 L262.24,399.69 Z" fill="#0000ff"/>
<path d="M277.33,397.61 L280.43,403.69 L274.23,403.69 Z" fill="#0000ff"/>
<path d="M293.32,404.81 L296.42,410.89 L290.22,410.89 Z" fill="#0000ff"/>
<path d="M309.30,410.11 L312.40,416.19 L306.20,416.19 Z" fill="#0000ff"/>
<path d="M325.29,413.51 L328.39,419.59 L322.19,419.59 Z" fill="#0000ff"/>
<path d="M357.26,429.11 L360.36,435.19 L354.16,435.19 Z" fill="#0000ff"/>
<polyline points="73.52,433.50 81.52,430.50 89.51,427.00 97.50,423.50 105.49,420.40 113.49,417.50 121.48,414.00 129.47,411.50 137.46,407.90 145.46,404.80 153.45,402.80 161.44,400.50 169.43,397.80 177.43,396.30 185.42,394.30 193.41,392.90 201.40,390.60 209.40,390.60 217.39,387.10 225.38,383.60 233.37,383.50 241.37,380.60 249.36,377.60 257.35,378.30 265.34,378.00 277.33,377.10 293.32,378.60 309.30,379.70 325.29,385.90 357.26,374.00" fill="none" stroke="#ff0000" stroke-width="1.2" stroke-dasharray="1.2,1.6"/>
<path d="M73.52,430.00 L76.12,433.50 L73.52,437.00 L70.92,433.50 Z" fill="#ff0000"/>
<path d="M81.52,427.00 L84.12,430.50 L81.52,434.00 L78.92,430.50 Z" fill="#ff0000"/>
<path d="M89.51,423.50 L92.11,427.00 L89.51,430.50 L86.91,427.00 Z" fill="#ff0000"/>
<path d="M97.50,420.00 L100.10,423.50 L97.50,427.00 L94.90,423.50 Z" fill="#ff0000"/>
<path d="M105.49,416.90 L108.09,420.40 L105.49,423.90 L102.89,420.40 Z" fill="#ff0000"/>
<path d="M113.49,414.00 L116.09,417.50 L113.49,421.00 L110.89,417.50 Z" fill="#ff0000"/>
<path d="M121.48,410.50 L124.08,414.00 L121.48,417.50 L118.88,414.00 Z" fill="#ff0000"/>
<path d="M129.47,408.00 L132.07,411.50 L129.47,415.00 L126.87,411.50 Z" fill="#ff0000"/>
<path d="M137.46,404.40 L140.06,407.90 L137.46,411.40 L134.86,407.90 Z" fill="#ff0000"/>
<path d="M145.46,401.30 L148.06,404.80 L145.46,408.30 L142.86,404.80 Z" fill="#ff0000"/>
<path d="M153.45,399.30 L156.05,402.80 L153.45,406.30 L150.85,402.80 Z" fill="#ff0000"/>
<path d="M161.44,397.00 L164.04,400.50 L161.44,404.00 L158.84,400.50 Z" fill="#ff0000"/>
<path d="M169.43,394.30 L172.03,397.80 L169.43,401.30 L166.83,397.80 Z" fill="#ff0000"/>
<path d="M177.43,392.80 L180.03,396.30 L177.43,399.80 L174.83,396.30 Z" fill="#ff0000"/>
<path d="M185.42,390.80 L188.02,394.30 L185.42,397.80 L182.82,394.30 Z" fill="#ff0000"/>
<path d="M193.41,389.40 L196.01,392.90 L193.41,396.40 L190.81,392.90 Z" fill="#ff0000"/>
<path d="M201.40,387.10 L204.00,390.60 L201.40,394.10 L198.80,390.60 Z" fill="#ff0000"/>
<path d="M209.40,387.10 L212.00,390.60 L209.40,394.10 L206.80,390.60 Z" fill="#ff0000"/>
<path d="M217.39,383.60 L219.99,387.10 L217.39,390.60 L214.79,387.10 Z" fill="#ff0000"/>
<path d="M225.38,380.10 L227.98,383.60 L225.38,387.10 L222.78,383.60 Z" fill="#ff0000"/>
<path d="M233.37,380.00 L235.97,383.50 L233.37,387.00 L230.77,383.50 Z" fill="#ff0000"/>
<path d="M241.37,377.10 L243.97,380.60 L241.37,384.10 L238.77,380.60 Z" fill="#ff0000"/>
<path d="M249.36,374.10 L251.96,377.60 L249.36,381.10 L246.76,377.60 Z" fill="#ff0000"/>
<path d="M257.35,374.80 L259.95,378.30 L257.35,381.80 L254.75,378.30 Z" fill="#ff0000"/>
<path d="M265.34,374.50 L267.94,378.00 L265.34,381.50 L262.74,378.00 Z" fill="#ff0000"/>
<path d="M277.33,373.60 L279.93,377.10 L277.33,380.60 L274.73,377.10 Z" fill="#ff0000"/>
<path d="M293.32,375.10 L295.92,378.60 L293.32,382.10 L290.72,378.60 Z" fill="#ff0000"/>
<path d="M309.30,376.20 L311.90,379.70 L309.30,383.20 L306.70,379.70 Z" fill="#ff0000"/>
<path d="M325.29,382.40 L327.89,385.90 L325.29,389.40 L322.69,385.90 Z" fill="#ff0000"/>
<path d="M357.26,370.50 L359.86,374.00 L357.26,377.50 L354.66,374.00 Z" fill="#ff0000"/>
</g>
<line x1="45.50" y1="17.50" x2="45.50" y2="25.50" stroke="#000" stroke-width="1.0"/>
<line x1="45.50" y1="317.40" x2="45.50" y2="309.40" stroke="#000" stroke-width="1.0"/>
<line x1="45.50" y1="317.40" x2="45.50" y2="322.80" stroke="#000" stroke-width="1.0"/>
<line x1="45.50" y1="477.60" x2="45.50" y2="473.00" stroke="#000" stroke-width="1.0"/>
<line x1="61.51" y1="17.50" x2="61.51" y2="19.80" stroke="#000" stroke-width="1.0"/>
<line x1="61.51" y1="317.40" x2="61.51" y2="315.10" stroke="#000" stroke-width="1.0"/>
<line x1="61.51" y1="317.40" x2="61.51" y2="318.90" stroke="#000" stroke-width="1.0"/>
<line x1="61.51" y1="477.60" x2="61.51" y2="476.20" stroke="#000" stroke-width="1.0"/>
<line x1="77.52" y1="17.50" x2="77.52" y2="21.90" stroke="#000" stroke-width="1.0"/>
<line x1="77.52" y1="317.40" x2="77.52" y2="313.00" stroke="#000" stroke-width="1.0"/>
<line x1="77.52" y1="317.40" x2="77.52" y2="320.30" stroke="#000" stroke-width="1.0"/>
<line x1="77.52" y1="477.60" x2="77.52" y2="474.70" stroke="#000" stroke-width="1.0"/>
<line x1="93.53" y1="17.50" x2="93.53" y2="19.80" stroke="#000" stroke-width="1.0"/>
<line x1="93.53" y1="317.40" x2="93.53" y2="315.10" stroke="#000" stroke-width="1.0"/>
<line x1="93.53" y1="317.40" x2="93.53" y2="318.90" stroke="#000" stroke-width="1.0"/>
<line x1="93.53" y1="477.60" x2="93.53" y2="476.20" stroke="#000" stroke-width="1.0"/>
<line x1="109.54" y1="17.50" x2="109.54" y2="21.90" stroke="#000" stroke-width="1.0"/>
<line x1="109.54" y1="317.40" x2="109.54" y2="313.00" stroke="#000" stroke-width="1.0"/>
<line x1="109.54" y1="317.40" x2="109.54" y2="320.30" stroke="#000" stroke-width="1.0"/>
<line x1="109.54" y1="477.60" x2="109.54" y2="474.70" stroke="#000" stroke-width="1.0"/>
<line x1="125.55" y1="17.50" x2="125.55" y2="19.80" stroke="#000" stroke-width="1.0"/>
<line x1="125.55" y1="317.40" x2="125.55" y2="315.10" stroke="#000" stroke-width="1.0"/>
<line x1="125.55" y1="317.40" x2="125.55" y2="318.90" stroke="#000" stroke-width="1.0"/>
<line x1="125.55" y1="477.60" x2="125.55" y2="476.20" stroke="#000" stroke-width="1.0"/>
<line x1="141.56" y1="17.50" x2="141.56" y2="21.90" stroke="#000" stroke-width="1.0"/>
<line x1="141.56" y1="317.40" x2="141.56" y2="313.00" stroke="#000" stroke-width="1.0"/>
<line x1="141.56" y1="317.40" x2="141.56" y2="320.30" stroke="#000" stroke-width="1.0"/>
<line x1="141.56" y1="477.60" x2="141.56" y2="474.70" stroke="#000" stroke-width="1.0"/>
<line x1="157.57" y1="17.50" x2="157.57" y2="19.80" stroke="#000" stroke-width="1.0"/>
<line x1="157.57" y1="317.40" x2="157.57" y2="315.10" stroke="#000" stroke-width="1.0"/>
<line x1="157.57" y1="317.40" x2="157.57" y2="318.90" stroke="#000" stroke-width="1.0"/>
<line x1="157.57" y1="477.60" x2="157.57" y2="476.20" stroke="#000" stroke-width="1.0"/>
<line x1="173.58" y1="17.50" x2="173.58" y2="21.90" stroke="#000" stroke-width="1.0"/>
<line x1="173.58" y1="317.40" x2="173.58" y2="313.00" stroke="#000" stroke-width="1.0"/>
<line x1="173.58" y1="317.40" x2="173.58" y2="320.30" stroke="#000" stroke-width="1.0"/>
<line x1="173.58" y1="477.60" x2="173.58" y2="474.70" stroke="#000" stroke-width="1.0"/>
<line x1="189.59" y1="17.50" x2="189.59" y2="19.80" stroke="#000" stroke-width="1.0"/>
<line x1="189.59" y1="317.40" x2="189.59" y2="315.10" stroke="#000" stroke-width="1.0"/>
<line x1="189.59" y1="317.40" x2="189.59" y2="318.90" stroke="#000" stroke-width="1.0"/>
<line x1="189.59" y1="477.60" x2="189.59" y2="476.20" stroke="#000" stroke-width="1.0"/>
<line x1="205.60" y1="17.50" x2="205.60" y2="25.50" stroke="#000" stroke-width="1.0"/>
<line x1="205.60" y1="317.40" x2="205.60" y2="309.40" stroke="#000" stroke-width="1.0"/>
<line x1="205.60" y1="317.40" x2="205.60" y2="322.80" stroke="#000" stroke-width="1.0"/>
<line x1="205.60" y1="477.60" x2="205.60" y2="473.00" stroke="#000" stroke-width="1.0"/>
<line x1="221.61" y1="17.50" x2="221.61" y2="19.80" stroke="#000" stroke-width="1.0"/>
<line x1="221.61" y1="317.40" x2="221.61" y2="315.10" stroke="#000" stroke-width="1.0"/>
<line x1="221.61" y1="317.40" x2="221.61" y2="318.90" stroke="#000" stroke-width="1.0"/>
<line x1="221.61" y1="477.60" x2="221.61" y2="476.20" stroke="#000" stroke-width="1.0"/>
<line x1="237.62" y1="17.50" x2="237.62" y2="21.90" stroke="#000" stroke-width="1.0"/>
<line x1="237.62" y1="317.40" x2="237.62" y2="313.00" stroke="#000" stroke-width="1.0"/>
<line x1="237.62" y1="317.40" x2="237.62" y2="320.30" stroke="#000" stroke-width="1.0"/>
<line x1="237.62" y1="477.60" x2="237.62" y2="474.70" stroke="#000" stroke-width="1.0"/>
<line x1="253.63" y1="17.50" x2="253.63" y2="19.80" stroke="#000" stroke-width="1.0"/>
<line x1="253.63" y1="317.40" x2="253.63" y2="315.10" stroke="#000" stroke-width="1.0"/>
<line x1="253.63" y1="317.40" x2="253.63" y2="318.90" stroke="#000" stroke-width="1.0"/>
<line x1="253.63" y1="477.60" x2="253.63" y2="476.20" stroke="#000" stroke-width="1.0"/>
<line x1="269.64" y1="17.50" x2="269.64" y2="21.90" stroke="#000" stroke-width="1.0"/>
<line x1="269.64" y1="317.40" x2="269.64" y2="313.00" stroke="#000" stroke-width="1.0"/>
<line x1="269.64" y1="317.40" x2="269.64" y2="320.30" stroke="#000" stroke-width="1.0"/>
<line x1="269.64" y1="477.60" x2="269.64" y2="474.70" stroke="#000" stroke-width="1.0"/>
<line x1="285.65" y1="17.50" x2="285.65" y2="19.80" stroke="#000" stroke-width="1.0"/>
<line x1="285.65" y1="317.40" x2="285.65" y2="315.10" stroke="#000" stroke-width="1.0"/>
<line x1="285.65" y1="317.40" x2="285.65" y2="318.90" stroke="#000" stroke-width="1.0"/>
<line x1="285.65" y1="477.60" x2="285.65" y2="476.20" stroke="#000" stroke-width="1.0"/>
<line x1="301.66" y1="17.50" x2="301.66" y2="21.90" stroke="#000" stroke-width="1.0"/>
<line x1="301.66" y1="317.40" x2="301.66" y2="313.00" stroke="#000" stroke-width="1.0"/>
<line x1="301.66" y1="317.40" x2="301.66" y2="320.30" stroke="#000" stroke-width="1.0"/>
<line x1="301.66" y1="477.60" x2="301.66" y2="474.70" stroke="#000" stroke-width="1.0"/>
<line x1="317.67" y1="17.50" x2="317.67" y2="19.80" stroke="#000" stroke-width="1.0"/>
<line x1="317.67" y1="317.40" x2="317.67" y2="315.10" stroke="#000" stroke-width="1.0"/>
<line x1="317.67" y1="317.40" x2="317.67" y2="318.90" stroke="#000" stroke-width="1.0"/>
<line x1="317.67" y1="477.60" x2="317.67" y2="476.20" stroke="#000" stroke-width="1.0"/>
<line x1="333.68" y1="17.50" x2="333.68" y2="21.90" stroke="#000" stroke-width="1.0"/>
<line x1="333.68" y1="317.40" x2="333.68" y2="313.00" stroke="#000" stroke-width="1.0"/>
<line x1="333.68" y1="317.40" x2="333.68" y2="320.30" stroke="#000" stroke-width="1.0"/>
<line x1="333.68" y1="477.60" x2="333.68" y2="474.70" stroke="#000" stroke-width="1.0"/>
<line x1="349.69" y1="17.50" x2="349.69" y2="19.80" stroke="#000" stroke-width="1.0"/>
<line x1="349.69" y1="317.40" x2="349.69" y2="315.10" stroke="#000" stroke-width="1.0"/>
<line x1="349.69" y1="317.40" x2="349.69" y2="318.90" stroke="#000" stroke-width="1.0"/>
<line x1="349.69" y1="477.60" x2="349.69" y2="476.20" stroke="#000" stroke-width="1.0"/>
<line x1="365.70" y1="17.50" x2="365.70" y2="25.50" stroke="#000" stroke-width="1.0"/>
<line x1="365.70" y1="317.40" x2="365.70" y2="309.40" stroke="#000" stroke-width="1.0"/>
<line x1="365.70" y1="317.40" x2="365.70" y2="322.80" stroke="#000" stroke-width="1.0"/>
<line x1="365.70" y1="477.60" x2="365.70" y2="473.00" stroke="#000" stroke-width="1.0"/>
<line x1="45.50" y1="298.66" x2="51.00" y2="298.66" stroke="#000" stroke-width="1.0"/>
<line x1="371.50" y1="298.66" x2="366.00" y2="298.66" stroke="#000" stroke-width="1.0"/>
<line x1="45.50" y1="283.43" x2="51.00" y2="283.43" stroke="#000" stroke-width="1.0"/>
<line x1="371.50" y1="283.43" x2="366.00" y2="283.43" stroke="#000" stroke-width="1.0"/>
<line x1="45.50" y1="272.62" x2="51.00" y2="272.62" stroke="#000" stroke-width="1.0"/>
<line x1="371.50" y1="272.62" x2="366.00" y2="272.62" stroke="#000" stroke-width="1.0"/>
<line x1="45.50" y1="264.24" x2="51.00" y2="264.24" stroke="#000" stroke-width="1.0"/>
<line x1="371.50" y1="264.24" x2="366.00" y2="264.24" stroke="#000" stroke-width="1.0"/>
<line x1="45.50" y1="257.39" x2="51.00" y2="257.39" stroke="#000" stroke-width="1.0"/>
<line x1="371.50" y1="257.39" x2="366.00" y2="257.39" stroke="#000" stroke-width="1.0"/>
<line x1="45.50" y1="251.60" x2="51.00" y2="251.60" stroke="#000" stroke-width="1.0"/>
<line x1="371.50" y1="251.60" x2="366.00" y2="251.60" stroke="#000" stroke-width="1.0"/>
<line x1="45.50" y1="246.58" x2="51.00" y2="246.58" stroke="#000" stroke-width="1.0"/>
<line x1="371.50" y1="246.58" x2="366.00" y2="246.58" stroke="#000" stroke-width="1.0"/>
<line x1="45.50" y1="242.16" x2="51.00" y2="242.16" stroke="#000" stroke-width="1.0"/>
<line x1="371.50" y1="242.16" x2="366.00" y2="242.16" stroke="#000" stroke-width="1.0"/>
<line x1="45.50" y1="238.20" x2="56.50" y2="238.20" stroke="#000" stroke-width="1.0"/>
<line x1="371.50" y1="238.20" x2="360.50" y2="238.20" stroke="#000" stroke-width="1.0"/>
<line x1="45.50" y1="212.16" x2="51.00" y2="212.16" stroke="#000" stroke-width="1.0"/>
<line x1="371.50" y1="212.16" x2="366.00" y2="212.16" stroke="#000" stroke-width="1.0"/>
<line x1="45.50" y1="196.93" x2="51.00" y2="196.93" stroke="#000" stroke-width="1.0"/>
<line x1="371.50" y1="196.93" x2="366.00" y2="196.93" stroke="#000" stroke-width="1.0"/>
<line x1="45.50" y1="186.12" x2="51.00" y2="186.12" stroke="#000" stroke-width="1.0"/>
<line x1="371.50" y1="186.12" x2="366.00" y2="186.12" stroke="#000" stroke-width="1.0"/>
<line x1="45.50" y1="177.74" x2="51.00" y2="177.74" stroke="#000" stroke-width="1.0"/>
<line x1="371.50" y1="177.74" x2="366.00" y2="177.74" stroke="#000" stroke-width="1.0"/>
<line x1="45.50" y1="170.89" x2="51.00" y2="170.89" stroke="#000" stroke-width="1.0"/>
<line x1="371.50" y1="170.89" x2="366.00" y2="170.89" stroke="#000" stroke-width="1.0"/>
<line x1="45.50" y1="165.10" x2="51.00" y2="165.10" stroke="#000" stroke-width="1.0"/>
<line x1="371.50" y1="165.10" x2="366.00" y2="165.10" stroke="#000" stroke-width="1.0"/>
<line x1="45.50" y1="160.08" x2="51.00" y2="160.08" stroke="#000" stroke-width="1.0"/>
<line x1="371.50" y1="160.08" x2="366.00" y2="160.08" stroke="#000" stroke-width="1.0"/>
<line x1="45.50" y1="155.66" x2="51.00" y2="155.66" stroke="#000" stroke-width="1.0"/>
<line x1="371.50" y1="155.66" x2="366.00" y2="155.66" stroke="#000" stroke-width="1.0"/>
<line x1="45.50" y1="151.70" x2="56.50" y2="151.70" stroke="#000" stroke-width="1.0"/>
<line x1="371.50" y1="151.70" x2="360.50" y2="151.70" stroke="#000" stroke-width="1.0"/>
<line x1="45.50" y1="125.66" x2="51.00" y2="125.66" stroke="#000" stroke-width="1.0"/>
<line x1="371.50" y1="125.66" x2="366.00" y2="125.66" stroke="#000" stroke-width="1.0"/>
<line x1="45.50" y1="110.43" x2="51.00" y2="110.43" stroke="#000" stroke-width="1.0"/>
<line x1="371.50" y1="110.43" x2="366.00" y2="110.43" stroke="#000" stroke-width="1.0"/>
<line x1="45.50" y1="99.62" x2="51.00" y2="99.62" stroke="#000" stroke-width="1.0"/>
<line x1="371.50" y1="99.62" x2="366.00" y2="99.62" stroke="#000" stroke-width="1.0"/>
<line x1="45.50" y1="91.24" x2="51.00" y2="91.24" stroke="#000" stroke-width="1.0"/>
<line x1="371.50" y1="91.24" x2="366.00" y2="91.24" stroke="#000" stroke-width="1.0"/>
<line x1="45.50" y1="84.39" x2="51.00" y2="84.39" stroke="#000" stroke-width="1.0"/>
<line x1="371.50" y1="84.39" x2="366.00" y2="84.39" stroke="#000" stroke-width="1.0"/>
<line x1="45.50" y1="78.60" x2="51.00" y2="78.60" stroke="#000" stroke-width="1.0"/>
<line x1="371.50" y1="78.60" x2="366.00" y2="78.60" stroke="#000" stroke-width="1.0"/>
<line x1="45.50" y1="73.58" x2="51.00" y2="73.58" stroke="#000" stroke-width="1.0"/>
<line x1="371.50" y1="73.58" x2="366.00" y2="73.58" stroke="#000" stroke-width="1.0"/>
<line x1="45.50" y1="69.16" x2="51.00" y2="69.16" stroke="#000" stroke-width="1.0"/>
<line x1="371.50" y1="69.16" x2="366.00" y2="69.16" stroke="#000" stroke-width="1.0"/>
<line x1="45.50" y1="65.20" x2="56.50" y2="65.20" stroke="#000" stroke-width="1.0"/>
<line x1="371.50" y1="65.20" x2="360.50" y2="65.20" stroke="#000" stroke-width="1.0"/>
<line x1="45.50" y1="39.16" x2="51.00" y2="39.16" stroke="#000" stroke-width="1.0"/>
<line x1="371.50" y1="39.16" x2="366.00" y2="39.16" stroke="#000" stroke-width="1.0"/>
<line x1="45.50" y1="23.93" x2="51.00" y2="23.93" stroke="#000" stroke-width="1.0"/>
<line x1="371.50" y1="23.93" x2="366.00" y2="23.93" stroke="#000" stroke-width="1.0"/>
<line x1="45.50" y1="458.01" x2="52.80" y2="458.01" stroke="#000" stroke-width="1.0"/>
<line x1="371.50" y1="458.01" x2="364.20" y2="458.01" stroke="#000" stroke-width="1.0"/>
<line x1="45.50" y1="442.09" x2="50.70" y2="442.09" stroke="#000" stroke-width="1.0"/>
<line x1="371.50" y1="442.09" x2="366.30" y2="442.09" stroke="#000" stroke-width="1.0"/>
<line x1="45.50" y1="428.64" x2="50.70" y2="428.64" stroke="#000" stroke-width="1.0"/>
<line x1="371.50" y1="428.64" x2="366.30" y2="428.64" stroke="#000" stroke-width="1.0"/>
<line x1="45.50" y1="416.98" x2="50.70" y2="416.98" stroke="#000" stroke-width="1.0"/>
<line x1="371.50" y1="416.98" x2="366.30" y2="416.98" stroke="#000" stroke-width="1.0"/>
<line x1="45.50" y1="406.70" x2="50.70" y2="406.70" stroke="#000" stroke-width="1.0"/>
<line x1="371.50" y1="406.70" x2="366.30" y2="406.70" stroke="#000" stroke-width="1.0"/>
<line x1="45.50" y1="397.50" x2="52.80" y2="397.50" stroke="#000" stroke-width="1.0"/>
<line x1="371.50" y1="397.50" x2="364.20" y2="397.50" stroke="#000" stroke-width="1.0"/>
<line x1="45.50" y1="389.18" x2="50.70" y2="389.18" stroke="#000" stroke-width="1.0"/>
<line x1="371.50" y1="389.18" x2="366.30" y2="389.18" stroke="#000" stroke-width="1.0"/>
<line x1="45.50" y1="381.58" x2="50.70" y2="381.58" stroke="#000" stroke-width="1.0"/>
<line x1="371.50" y1="381.58" x2="366.30" y2="381.58" stroke="#000" stroke-width="1.0"/>
<line x1="45.50" y1="374.60" x2="50.70" y2="374.60" stroke="#000" stroke-width="1.0"/>
<line x1="371.50" y1="374.60" x2="366.30" y2="374.60" stroke="#000" stroke-width="1.0"/>
<line x1="45.50" y1="368.13" x2="50.70" y2="368.13" stroke="#000" stroke-width="1.0"/>
<line x1="371.50" y1="368.13" x2="366.30" y2="368.13" stroke="#000" stroke-width="1.0"/>
<line x1="45.50" y1="362.11" x2="52.80" y2="362.11" stroke="#000" stroke-width="1.0"/>
<line x1="371.50" y1="362.11" x2="364.20" y2="362.11" stroke="#000" stroke-width="1.0"/>
<line x1="45.50" y1="356.47" x2="50.70" y2="356.47" stroke="#000" stroke-width="1.0"/>
<line x1="371.50" y1="356.47" x2="366.30" y2="356.47" stroke="#000" stroke-width="1.0"/>
<line x1="45.50" y1="351.18" x2="50.70" y2="351.18" stroke="#000" stroke-width="1.0"/>
<line x1="371.50" y1="351.18" x2="366.30" y2="351.18" stroke="#000" stroke-width="1.0"/>
<line x1="45.50" y1="346.19" x2="50.70" y2="346.19" stroke="#000" stroke-width="1.0"/>
<line x1="371.50" y1="346.19" x2="366.30" y2="346.19" stroke="#000" stroke-width="1.0"/>
<line x1="45.50" y1="341.47" x2="50.70" y2="341.47" stroke="#000" stroke-width="1.0"/>
<line x1="371.50" y1="341.47" x2="366.30" y2="341.47" stroke="#000" stroke-width="1.0"/>
<line x1="45.50" y1="336.99" x2="52.80" y2="336.99" stroke="#000" stroke-width="1.0"/>
<line x1="371.50" y1="336.99" x2="364.20" y2="336.99" stroke="#000" stroke-width="1.0"/>
<line x1="45.50" y1="332.73" x2="50.70" y2="332.73" stroke="#000" stroke-width="1.0"/>
<line x1="371.50" y1="332.73" x2="366.30" y2="332.73" stroke="#000" stroke-width="1.0"/>
<line x1="45.50" y1="328.67" x2="50.70" y2="328.67" stroke="#000" stroke-width="1.0"/>
<line x1="371.50" y1="328.67" x2="366.30" y2="328.67" stroke="#000" stroke-width="1.0"/>
<line x1="45.50" y1="324.79" x2="50.70" y2="324.79" stroke="#000" stroke-width="1.0"/>
<line x1="371.50" y1="324.79" x2="366.30" y2="324.79" stroke="#000" stroke-width="1.0"/>
<line x1="45.50" y1="321.08" x2="50.70" y2="321.08" stroke="#000" stroke-width="1.0"/>
<line x1="371.50" y1="321.08" x2="366.30" y2="321.08" stroke="#000" stroke-width="1.0"/>
<rect x="45.5" y="17.5" width="326.0" height="299.9" fill="none" stroke="#000" stroke-width="1.2"/>
<rect x="45.5" y="317.4" width="326.0" height="160.20000000000005" fill="none" stroke="#000" stroke-width="1.2"/>
<text x="51" y="13.7" font-size="12" text-anchor="start" fill="#000" >7000 GeV pp</text>
<text x="367.0" y="13.9" font-size="12.3" text-anchor="end" fill="#000" >Soft QCD</text>
<text x="129.2" y="42.6" font-size="12" text-anchor="start" fill="#000" >Momentum fraction z<tspan font-size="10">(track jets)</tspan></text>
<text x="94.4" y="64.8" font-size="9.35" text-anchor="start" fill="#000" >ATLAS</text>
<text x="94.4" y="77.7" font-size="9.35" text-anchor="start" fill="#000" >Herwig++ 2.5.0 default</text>
<text x="94.4" y="90.7" font-size="9.35" text-anchor="start" fill="#000" >Herwig 7.2.1 default</text>
<text x="94.4" y="103.6" font-size="9.35" text-anchor="start" fill="#000" >Pythia 8.308 default</text>
<text x="94.4" y="116.5" font-size="9.35" text-anchor="start" fill="#000" >Sherpa 2.2.9 default</text>
<rect x="73.80" y="59.50" width="5.6" height="5.6" fill="#000"/>
<line x1="64" y1="75.2" x2="89" y2="75.2" stroke="#b35a0c" stroke-width="1.0" stroke-dasharray="2.5,2"/>
<circle cx="76.50" cy="75.20" r="2.7" fill="none" stroke="#b35a0c" stroke-width="1.0"/>
<line x1="64" y1="88.2" x2="89" y2="88.2" stroke="#3c9c2c" stroke-width="1.0" stroke-dasharray="2.5,2"/>
<rect x="73.70" y="85.40" width="5.6" height="5.6" fill="none" stroke="#3c9c2c" stroke-width="1.0"/>
<line x1="64.00" y1="101.10" x2="89.00" y2="101.10" stroke="#0000ff" stroke-width="1.0"/>
<path d="M76.50,97.90 L79.50,103.80 L73.50,103.80 Z" fill="#0000ff"/>
<line x1="77" y1="114.0" x2="89" y2="114.0" stroke="#ff0000" stroke-width="1.0" stroke-dasharray="1.2,1.8"/>
<line x1="64.00" y1="114.00" x2="77.00" y2="114.00" stroke="#ff0000" stroke-width="0.9"/>
<path d="M76.50,110.80 L78.70,114.00 L76.50,117.20 L74.30,114.00 Z" fill="#ff0000"/>
<text x="40.9" y="155.9" font-size="12" text-anchor="end" fill="#000" >10</text>
<text x="40.4" y="241.9" font-size="12" text-anchor="end" fill="#000" >1</text>
<text x="34.9" y="70.7" font-size="10.8" text-anchor="end" fill="#000" >10</text>
<text x="34.7" y="65.6" font-size="7.8" text-anchor="start" fill="#000" >2</text>
<text x="39.0" y="341.2" font-size="12" text-anchor="end" fill="#000" >2</text>
<text x="38.9" y="401.9" font-size="12" text-anchor="end" fill="#000" >1</text>
<text x="39.2" y="462.1" font-size="12" text-anchor="end" fill="#000" >0.5</text>
<text x="46" y="489.2" font-size="12" text-anchor="middle" fill="#000" >0</text>
<text x="205.5" y="489.2" font-size="12" text-anchor="middle" fill="#000" >0.5</text>
<text x="365.7" y="489.2" font-size="12" text-anchor="middle" fill="#000" >1</text>
<text x="373.3" y="504.2" font-size="12.7" text-anchor="end" fill="#000" >Charged particle z</text>
<text x="373.7" y="341.2" font-size="12" text-anchor="start" fill="#000" >2</text>
<text x="373.7" y="402.9" font-size="12" text-anchor="start" fill="#000" >1</text>
<text x="373.7" y="462.1" font-size="12" text-anchor="start" fill="#000" >0.5</text>
<text x="168.0" y="302.1" font-size="8.05" text-anchor="start" fill="#999" >ATLAS_2011_I919017</text>
<text transform="translate(14.6,17.2) rotate(-90)" font-size="12.3" text-anchor="end">1/N<tspan font-size="7" dy="3.4">jet</tspan><tspan dy="-3.4"> dN/dz</tspan></text>
<text transform="translate(17.9,396) rotate(-90)" font-size="9" text-anchor="middle">Ratio to ATLAS</text>
<text transform="translate(380.3,132.2) rotate(-90)" font-size="9.5" text-anchor="start" fill="#666">Rivet 3.1.10, ≥ 400k events</text>
<text transform="translate(380.5,313.3) rotate(-90)" font-size="9.45" text-anchor="start" fill="#666">mcplots.cern.ch [arXiv:1306.3436]</text>
</svg></body></html>
